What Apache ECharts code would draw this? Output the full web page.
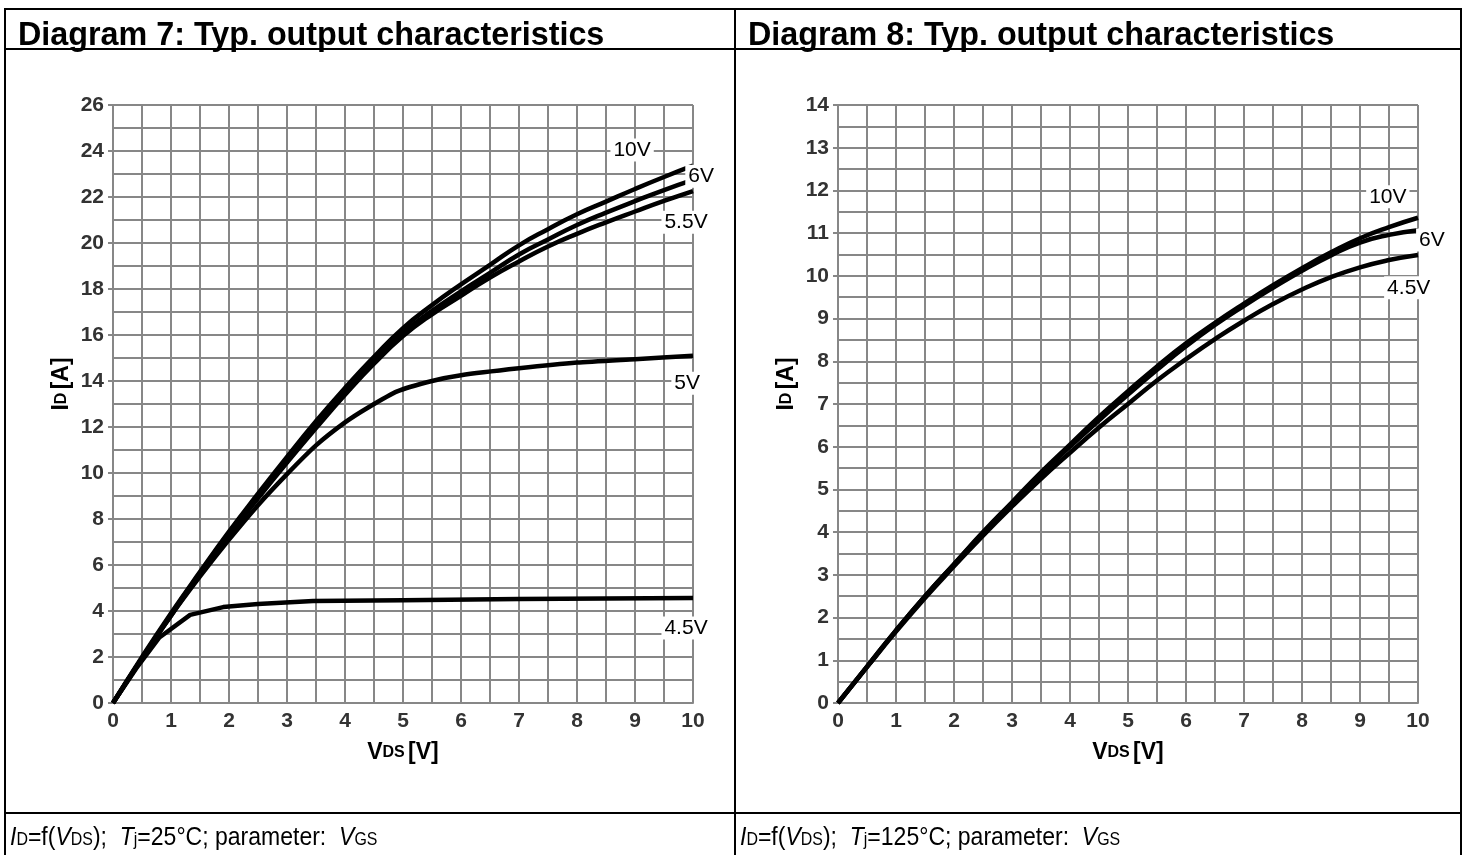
<!DOCTYPE html>
<html>
<head>
<meta charset="utf-8">
<script src="https://cdn.jsdelivr.net/npm/echarts@6/dist/echarts.min.js"></script>
<style>
  html, body { margin:0; padding:0; background:#fff; }
  #wrap { position:relative; width:1466px; height:855px; overflow:hidden; font-family:"Liberation Sans", Arial, sans-serif; }
  #chart { position:absolute; left:0; top:0; width:1466px; height:855px; }
  .ln { position:absolute; background:#000; }
  .title { position:absolute; font-weight:bold; font-size:34px; color:#000; white-space:nowrap; line-height:1; transform:scaleX(0.95); transform-origin:0 0; }
  .foot { position:absolute; font-size:26px; color:#000; white-space:nowrap; line-height:1; transform:scaleX(0.885); transform-origin:0 0; }
  .foot .s { font-size:18px; }
  .foot i { font-style:italic; }
</style>
</head>
<body>
<div id="wrap">
  <div id="chart"></div>
  <div class="ln" style="left:4px;top:8px;width:1458px;height:2px;"></div>
  <div class="ln" style="left:4px;top:48px;width:1458px;height:2px;"></div>
  <div class="ln" style="left:4px;top:812px;width:1458px;height:2px;"></div>
  <div class="ln" style="left:4px;top:8px;width:2px;height:860px;"></div>
  <div class="ln" style="left:734px;top:8px;width:2px;height:860px;"></div>
  <div class="ln" style="left:1460px;top:8px;width:2px;height:860px;"></div>
  <div class="title" style="left:18px;top:16px;">Diagram 7: Typ. output characteristics</div>
  <div class="title" style="left:748px;top:16px;">Diagram 8: Typ. output characteristics</div>
  <div class="foot" style="left:10px;top:823px;"><i>I</i><span class="s">D</span>=f(<i>V</i><span class="s">DS</span>);&nbsp; <i>T</i><span class="s">j</span>=25°C; parameter:&nbsp; <i>V</i><span class="s">GS</span></div>
  <div class="foot" style="left:740px;top:823px;"><i>I</i><span class="s">D</span>=f(<i>V</i><span class="s">DS</span>);&nbsp; <i>T</i><span class="s">j</span>=125°C; parameter:&nbsp; <i>V</i><span class="s">GS</span></div>
</div>
<script>
// ---- Diagram 7 (Tj = 25°C) ----
const vds = [0,0.5,1,1.5,2,2.5,3,3.5,4,4.5,5,5.5,6,6.5,7,7.5,8,8.5,9,9.5,10];
const id25_10V  = [0,2.0,3.9,5.7,7.45,9.1,10.7,12.25,13.7,15.05,16.3,17.3,18.2,19.05,19.9,20.6,21.25,21.8,22.35,22.87,23.36];
const id25_6V   = [0,1.95,3.85,5.65,7.4,9.0,10.6,12.1,13.55,14.9,16.1,17.05,17.9,18.7,19.5,20.15,20.78,21.32,21.82,22.3,22.74];
const id25_55V  = [0,1.95,3.8,5.6,7.3,8.9,10.45,11.95,13.4,14.75,15.95,16.9,17.7,18.5,19.2,19.85,20.4,20.9,21.37,21.83,22.26];
const vds25_5V  = [0,0.5,1,1.5,2,2.5,3,3.5,4,4.4,4.9,5.5,6,7,8,9,10];
const id25_5V   = [0,1.95,3.8,5.5,7.1,8.6,9.95,11.2,12.2,12.85,13.55,14.0,14.25,14.55,14.8,14.95,15.1];
const vds25_45V = [0,0.4,0.8,1.33,1.9,2.5,3.45,5,7,10];
const id25_45V  = [0,1.5,2.85,3.83,4.17,4.3,4.43,4.47,4.52,4.57];
const labels25  = ['10V','6V','5.5V','5V','4.5V'];
const labelV25  = [8.95,10.14,9.88,9.9,9.88];
const labelI25  = [24.04,22.9,20.9,13.9,3.26];

// ---- Diagram 8 (Tj = 125°C) ----
const id125_10V = [0,0.85,1.7,2.5,3.25,4.0,4.7,5.4,6.05,6.7,7.3,7.88,8.42,8.9,9.35,9.78,10.18,10.55,10.88,11.14,11.36];
const id125_6V  = [0,0.85,1.7,2.5,3.25,3.98,4.68,5.36,6.0,6.62,7.22,7.8,8.35,8.85,9.3,9.72,10.12,10.48,10.78,10.96,11.07];
const id125_45V = [0,0.84,1.67,2.46,3.2,3.92,4.6,5.25,5.86,6.45,7.0,7.55,8.05,8.52,8.95,9.34,9.68,9.97,10.2,10.37,10.49];
const labels125 = ['10V','6V','4.5V'];
const labelV125 = [9.48,10.24,9.84];
const labelI125 = [11.85,10.84,9.72];

const zip = (xs, ys) => xs.map((x, i) => [x, ys[i]]);
const lbl = (names, xs, ys) => names.map((n, i) => [xs[i], ys[i], n]);

const GRID = '#878787';
const FONT = 'Liberation Sans, Arial';
const axisLabelStyle = { color:'#333', fontWeight:'bold', fontSize:21, fontFamily:FONT };
const nameRich = { b:{ fontWeight:'bold', fontSize:23, color:'#000', fontFamily:FONT }, s:{ fontWeight:'bold', fontSize:16, color:'#000', fontFamily:FONT } };
function xAx(idx) {
  return {
    gridIndex: idx, type:'value', min:0, max:10, interval:1,
    axisLine:{ show:true, lineStyle:{ color:GRID, width:2 } },
    axisTick:{ show:false },
    splitLine:{ show:true, lineStyle:{ color:GRID, width:2 } },
    minorTick:{ show:false, splitNumber:2 },
    minorSplitLine:{ show:true, lineStyle:{ color:GRID, width:2 } },
    axisLabel:{ ...axisLabelStyle, margin:8 },
    name:'{b|V}{s|DS} {b|[V]}', nameLocation:'middle', nameGap:38,
    nameTextStyle:{ rich:nameRich }
  };
}
function yAx(idx, max, interval) {
  return {
    gridIndex: idx, type:'value', min:0, max:max, interval:interval,
    axisLine:{ show:true, lineStyle:{ color:GRID, width:2 } },
    axisTick:{ show:true, length:5, lineStyle:{ color:GRID, width:2 } },
    splitLine:{ show:true, lineStyle:{ color:GRID, width:2 } },
    minorTick:{ show:false, splitNumber:2 },
    minorSplitLine:{ show:true, lineStyle:{ color:GRID, width:2 } },
    axisLabel:{ ...axisLabelStyle, margin:9 },
    name:'{b|I}{s|D} {b|[A]}', nameLocation:'middle', nameGap:40,
    nameTextStyle:{ rich:nameRich, padding:[0,0,0,40] }
  };
}
function curve(idx, data, smooth) {
  return { type:'line', xAxisIndex:idx, yAxisIndex:idx, data:data, showSymbol:false, smooth:smooth,
    lineStyle:{ color:'#000', width:4.5 }, silent:true, z:3, animation:false };
}
function labelSeries(idx, data) {
  return { type:'scatter', xAxisIndex:idx, yAxisIndex:idx, data:data, symbolSize:0, clip:false, z:5, animation:false, silent:true,
    itemStyle:{ color:'rgba(0,0,0,0)' },
    label:{ show:true, position:'inside', formatter:p => p.value[2], color:'#000', opacity:1, fontSize:21,
      fontFamily:FONT, backgroundColor:'#fff', padding:[1,3] } };
}

const chart = echarts.init(document.getElementById('chart'), null, { renderer:'canvas' });
chart.setOption({
  animation:false,
  backgroundColor:'#fff',
  grid:[ { left:113, top:105, width:580, height:598 }, { left:838, top:105, width:580, height:598 } ],
  xAxis:[ xAx(0), xAx(1) ],
  yAxis:[ yAx(0, 26, 2), yAx(1, 14, 1) ],
  series:[
    curve(0, zip(vds, id25_10V), 0.5),
    curve(0, zip(vds, id25_6V), 0.5),
    curve(0, zip(vds, id25_55V), 0.5),
    curve(0, zip(vds25_5V, id25_5V), 0.2),
    curve(0, zip(vds25_45V, id25_45V), false),
    labelSeries(0, lbl(labels25, labelV25, labelI25)),
    curve(1, zip(vds, id125_10V), 0.5),
    curve(1, zip(vds, id125_6V), 0.5),
    curve(1, zip(vds, id125_45V), 0.5),
    labelSeries(1, lbl(labels125, labelV125, labelI125))
  ]
});
</script>
</body>
</html>
